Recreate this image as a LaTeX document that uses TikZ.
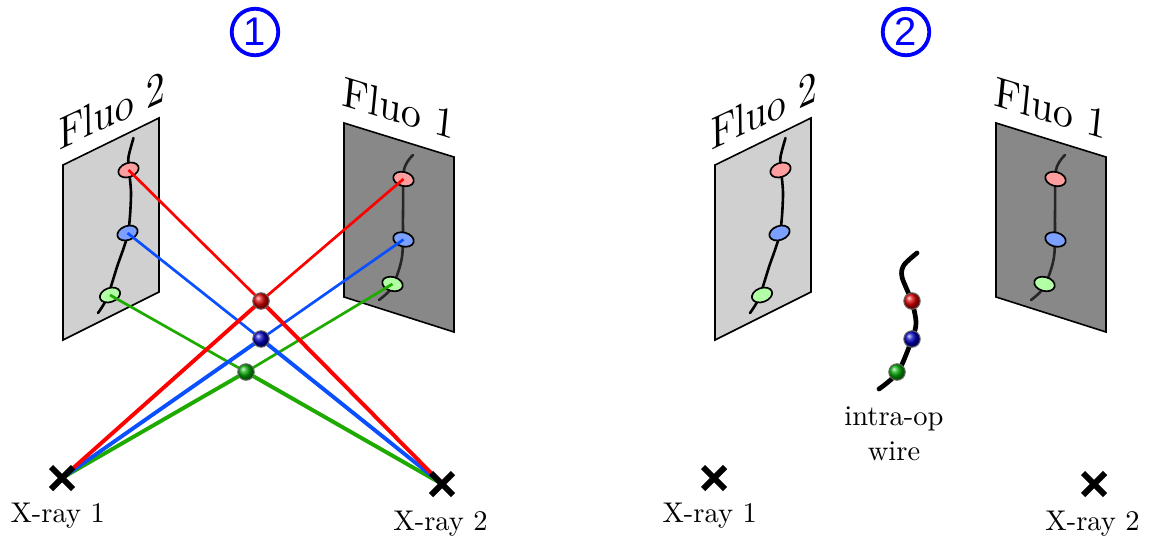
\documentclass[tikz,border=0pt]{standalone}
\usepackage{fontspec}
\usepackage{xcolor}
\usepackage{tikz}
\usetikzlibrary{positioning,shapes.geometric,shapes.misc}
\newfontfamily\tagfont{Liberation Sans}
\definecolor{rayRed}{HTML}{FF0000}
\definecolor{rayBlue}{HTML}{0A50FF}
\definecolor{rayGreen}{HTML}{1FAA00}
\definecolor{spotRed}{HTML}{FF9E9E}
\definecolor{spotBlue}{HTML}{7BA0FF}
\definecolor{spotGreen}{HTML}{B2FFA6}
\definecolor{panelLight}{HTML}{D0D0D0}
\definecolor{panelDark}{HTML}{888888}
\tikzset{
  panel/.style={draw=black,line width=1.6pt,line join=miter},
  wire/.style={line width=2.6pt,line cap=round},
  spot/.style={draw=black,ellipse,line width=1.7pt,inner sep=0pt,minimum width=21pt,minimum height=14pt},
  ball/.style={circle,draw=black!60,line width=1pt,inner sep=0pt,minimum size=16.5pt,shading=ball},
  xcross/.style={cross out,draw=black,line width=6pt,inner sep=0pt,minimum size=16pt},
  thinray/.style={line width=2.7pt},
  thickray/.style={line width=3.9pt},
  tagnum/.style={circle,draw=blue,text=blue,line width=3.8pt,minimum size=46.5pt,inner sep=0pt,font=\fontsize{40}{40}\selectfont\tagfont},
  flutag/.style={inner sep=0pt,scale=4.15},
  small/.style={inner sep=0pt,align=center,scale=2.85,font=\fontsize{10}{12.3}\selectfont}
}
\begin{document}
\begin{tikzpicture}[x=1pt,y=-1pt]
  \useasboundingbox (0,0) rectangle (1154,536);
  % view 1
  \node[tagnum] (tagA) at (255,32) {1};
  \node[flutag,rotate=25,xslant=.45] (fluBtagA) at (112,110) {Fluo 2};
  \node[flutag,rotate=-17,xslant=-.2] (fluAtagA) at (399,108) {Fluo 1};
  \draw[panel,fill=panelLight] (63,165) -- (159,118) -- (159,292) -- (63,340) -- cycle;
  \draw[panel,fill=panelDark] (344,123) -- (454,157) -- (454,332) -- (344,297) -- cycle;
  \draw[wire] plot[smooth] coordinates {(133.5,138) (128.5,157) (129,170) (131,195) (128,233) (117,267) (107,298) (98,313)};
  \draw[wire,black!85] plot[smooth] coordinates {(413,155) (404,170) (403,213) (402,257) (392,287) (379,300)};
  \node[spot,fill=spotRed,rotate=20] (fluBredA) at (128.5,170) {};
  \node[spot,fill=spotBlue,rotate=20] (fluBblueA) at (127.5,233) {};
  \node[spot,fill=spotGreen,rotate=20] (fluBgreenA) at (110,295) {};
  \node[spot,fill=spotRed,rotate=-15] (fluAredA) at (403.5,179) {};
  \node[spot,fill=spotBlue,rotate=-15] (fluAblueA) at (403.5,239.5) {};
  \node[spot,fill=spotGreen,rotate=-15] (fluAgreenA) at (392.5,284) {};
  \coordinate (xrayOneA) at (62,478);
  \coordinate (xrayTwoA) at (442,484);
  \coordinate (hitRed) at (261,301);
  \coordinate (hitBlue) at (261,339);
  \coordinate (hitGreen) at (246,372);
  \draw[thinray,rayGreen] (fluBgreenA.center) -- (hitGreen);
  \draw[thinray,rayGreen] (fluAgreenA.center) -- (hitGreen);
  \draw[thickray,rayGreen] (hitGreen) -- (xrayOneA);
  \draw[thickray,rayGreen] (hitGreen) -- (xrayTwoA);
  \draw[thinray,rayBlue] (fluBblueA.center) -- (hitBlue);
  \draw[thinray,rayBlue] (fluAblueA.center) -- (hitBlue);
  \draw[thickray,rayBlue] (hitBlue) -- (xrayOneA);
  \draw[thickray,rayBlue] (hitBlue) -- (xrayTwoA);
  \draw[thinray,rayRed] (fluBredA.center) -- (hitRed);
  \draw[thinray,rayRed] (fluAredA.center) -- (hitRed);
  \draw[thickray,rayRed] (hitRed) -- (xrayOneA);
  \draw[thickray,rayRed] (hitRed) -- (xrayTwoA);
  \node[xcross] (crossOneA) at (xrayOneA) {};
  \node[xcross] (crossTwoA) at (xrayTwoA) {};
  \node[small,below=13pt of crossOneA,xshift=-1.5pt] (xrayOneTagA) {X-ray 1};
  \node[small,below=15pt of crossTwoA,xshift=-.5pt] (xrayTwoTagA) {X-ray 2};
  \node[ball,ball color=red!85!black] (ballRedA) at (hitRed) {};
  \node[ball,ball color=blue!75!black] (ballBlueA) at (hitBlue) {};
  \node[ball,ball color=green!65!black] (ballGreenA) at (hitGreen) {};
  % view 2
  \node[tagnum] (tagB) at (906,32) {2};
  \node[flutag,rotate=25,xslant=.45] (fluBtagB) at (764,110) {Fluo 2};
  \node[flutag,rotate=-17,xslant=-.2] (fluAtagB) at (1051,108) {Fluo 1};
  \draw[panel,fill=panelLight] (715,165) -- (811,118) -- (811,292) -- (715,340) -- cycle;
  \draw[panel,fill=panelDark] (996,123) -- (1106,157) -- (1106,332) -- (996,297) -- cycle;
  \draw[wire] plot[smooth] coordinates {(785.5,138) (780.5,157) (781,170) (783,195) (780,233) (769,267) (759,298) (750,313)};
  \draw[wire,black!85] plot[smooth] coordinates {(1065,155) (1056,170) (1055,213) (1054,257) (1044,287) (1031,300)};
  \node[spot,fill=spotRed,rotate=20] (fluBredB) at (780.5,170) {};
  \node[spot,fill=spotBlue,rotate=20] (fluBblueB) at (779.5,233) {};
  \node[spot,fill=spotGreen,rotate=20] (fluBgreenB) at (762,295) {};
  \node[spot,fill=spotRed,rotate=-15] (fluAredB) at (1055.5,179) {};
  \node[spot,fill=spotBlue,rotate=-15] (fluAblueB) at (1055.5,239.5) {};
  \node[spot,fill=spotGreen,rotate=-15] (fluAgreenB) at (1044.5,284) {};
  \node[xcross] (crossOneB) at (714,478) {};
  \node[xcross] (crossTwoB) at (1094,484) {};
  \node[small,below=13pt of crossOneB,xshift=-1.5pt] (xrayOneTagB) {X-ray 1};
  \node[small,below=15pt of crossTwoB,xshift=-.5pt] (xrayTwoTagB) {X-ray 2};
  \draw[line width=4.7pt,line cap=round] plot[smooth] coordinates {(917,253) (904,265) (902,277) (912,302) (916,323) (912,339) (898,372) (879,389)};
  \node[ball,ball color=red!85!black] (ballRedB) at (912,301) {};
  \node[ball,ball color=blue!75!black] (ballBlueB) at (912,339) {};
  \node[ball,ball color=green!65!black] (ballGreenB) at (897,372) {};
  \node[small] (wireTag) at (894,434) {intra-op\\wire};
\end{tikzpicture}
\end{document}
